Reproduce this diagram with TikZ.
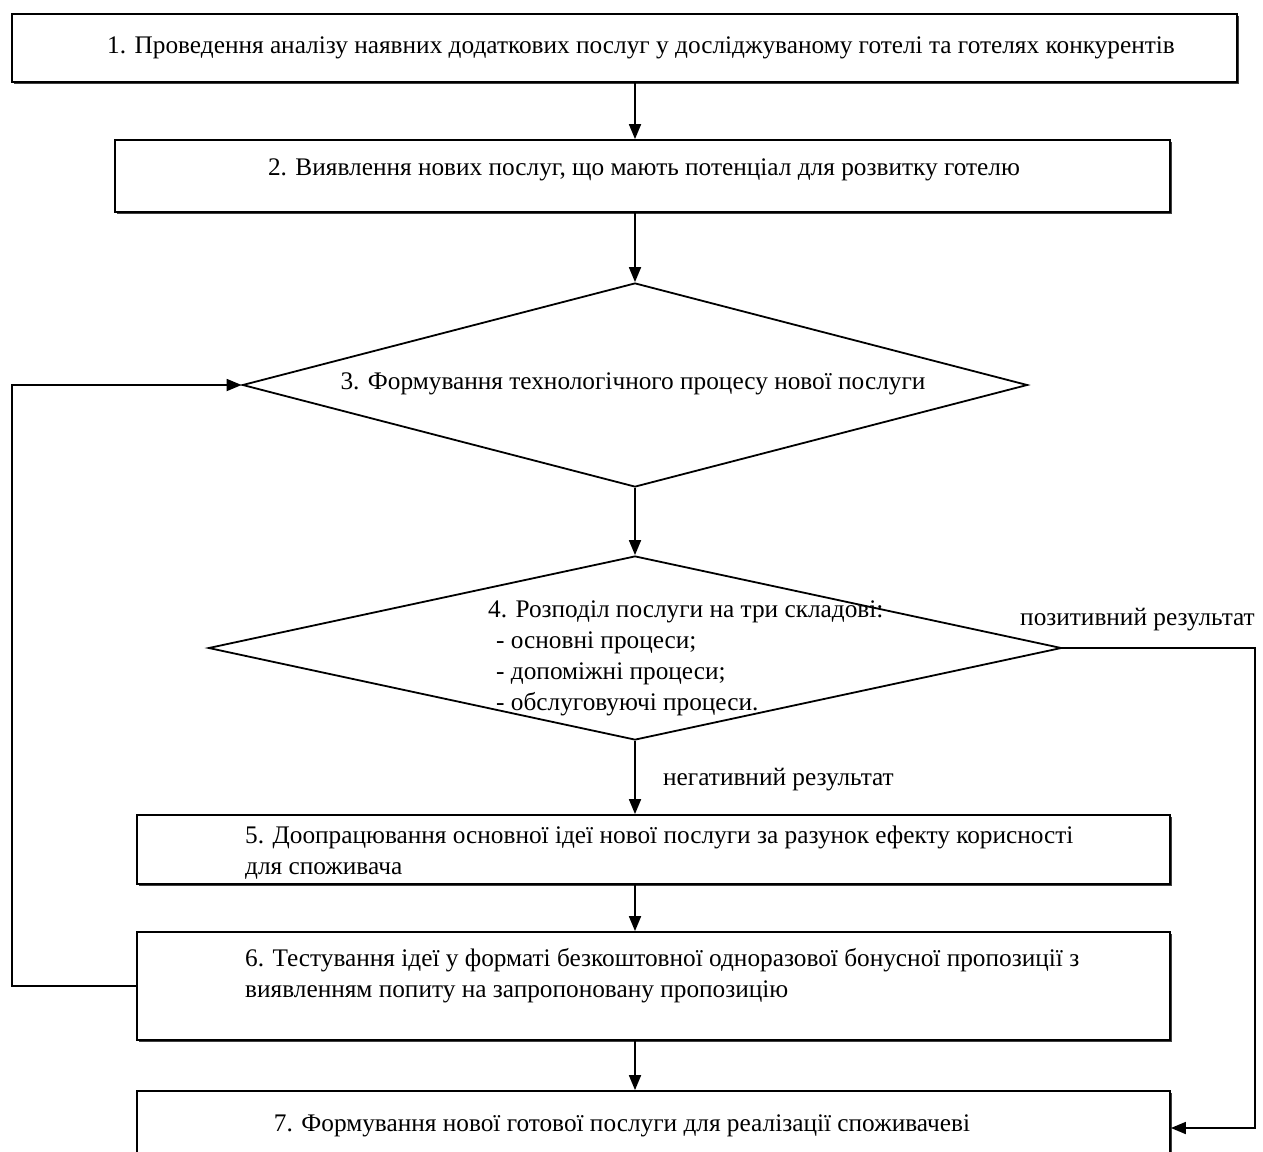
\documentclass[tikz,border=0pt]{standalone}
\usepackage{fontspec}
\setmainfont{Liberation Serif}
\usetikzlibrary{arrows.meta,shadows,shapes.geometric}
\begin{document}
\begin{tikzpicture}[x=1pt,y=-1pt,
  box/.style={draw, line width=1.8pt, fill=white, rectangle, inner sep=0pt,
    drop shadow={shadow xshift=1.5pt,shadow yshift=-2pt,opacity=1,fill=black!75}},
  dia/.style={draw, line width=1.8pt, diamond, inner sep=0pt},
  txt/.style={font=\fontsize{25.3}{31}\selectfont, inner sep=0pt},
  arr/.style={line width=1.8pt, -{Triangle[length=15pt,width=12pt]}},
  ln/.style={line width=1.8pt}]
\useasboundingbox (0,0) rectangle (1263,1151);
\fill[white] (0,0) rectangle (1263,1151);

\node[box, minimum width=1225pt, minimum height=68pt] (b1) at (624.5,48) {};
\node[box, minimum width=1055pt, minimum height=72pt] (b2) at (642.5,176) {};
\node[dia, minimum width=785pt, minimum height=204pt] (d3) at (635,385) {};
\node[dia, minimum width=853pt, minimum height=184pt] (d4) at (635,648) {};
\node[box, minimum width=1033pt, minimum height=69pt] (b5) at (653.5,849.5) {};
\node[box, minimum width=1033pt, minimum height=108pt] (b6) at (653.5,986) {};
\node[box, minimum width=1033pt, minimum height=80pt] (b7) at (653.5,1131) {};

\node[txt] (t1) at (641,48) {1. Проведення аналізу наявних додаткових послуг у досліджуваному готелі та готелях конкурентів};
\node[txt] (t2) at (644,170) {2. Виявлення нових послуг, що мають потенціал для розвитку готелю};
\node[txt] (t3) at (633,384) {3. Формування технологічного процесу нової послуги};
\node[txt, anchor=base west, align=left] (t4) at (488,710) {4. Розподіл послуги на три складові:\\
\hspace*{8pt}- основні процеси;\\
\hspace*{8pt}- допоміжні процеси;\\
\hspace*{8pt}- обслуговуючі процеси.};
\node[txt, anchor=base west, align=left] (t5) at (245,874) {5. Доопрацювання основної ідеї нової послуги за разунок ефекту корисності\\для споживача};
\node[txt, anchor=base west, align=left] (t6) at (245,997) {6. Тестування ідеї у форматі безкоштовної одноразової бонусної пропозиції з\\виявленням попиту на запропоновану пропозицію};
\node[txt] (t7) at (622,1126) {7. Формування нової готової послуги для реалізації споживачеві};
\node[txt, anchor=west] (lp) at (1020,620) {позитивний результат};
\node[txt, anchor=west] (ln) at (663,780) {негативний результат};

\coordinate (ax) at (635,0);
\draw[arr] (b1.south -| ax) -- (b2.north -| ax);
\draw[arr] (b2.south -| ax) -- (d3.north);
\draw[arr] (d3.south) -- (d4.north);
\draw[arr] (d4.south -| ax) -- (b5.north -| ax);
\draw[arr] (b5.south -| ax) -- (b6.north -| ax);
\draw[arr] (b6.south -| ax) -- (b7.north -| ax);

\coordinate (rc) at (1255,648);
\coordinate (lc) at (12,986);
\draw[arr] (d4.east) -- (rc) |- (b7.east |- 0,1128);
\draw[arr] (b6.west) -- (lc) |- (d3.west);
\end{tikzpicture}
\end{document}
